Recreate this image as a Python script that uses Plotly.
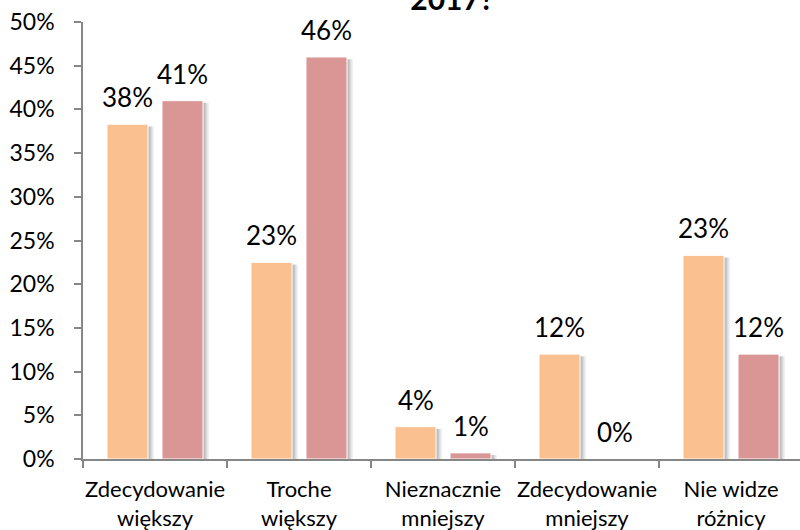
import plotly.graph_objects as go

categories = ["Zdecydowanie<br>większy", "Troche<br>większy", "Nieznacznie<br>mniejszy",
              "Zdecydowanie<br>mniejszy", "Nie widze<br>różnicy"]
series_a = [38.3, 22.5, 3.7, 12.0, 23.3]
series_b = [41.0, 46.0, 0.7, 0.0, 12.0]
label_a = ["38%", "23%", "4%", "12%", "23%"]
label_b = ["41%", "46%", "1%", "0%", "12%"]
y_ticks = [0, 5, 10, 15, 20, 25, 30, 35, 40, 45, 50]
y_ticktext = [f"{v}%" for v in y_ticks]

color_a = "#FAC090"
color_b = "#D99694"
font_family = "Lato, Open Sans, sans-serif"

bar_w = 0.285
center_shift = 0.191
offsets = {"A": -center_shift - bar_w / 2, "B": center_shift - bar_w / 2}

fig = go.Figure()

# soft drop shadows (drawn first, behind the bars)
for key, vals in (("A", series_a), ("B", series_b)):
    for dx, alpha in ((0.042, 0.06), (0.030, 0.09), (0.018, 0.12)):
        fig.add_trace(go.Bar(
            x=categories, y=[max(v - 0.25, 0) for v in vals], width=bar_w, offset=offsets[key] + dx,
            marker=dict(color=f"rgba(0,0,0,{alpha})", line=dict(width=0)),
            hoverinfo="skip", showlegend=False))

fig.add_trace(go.Bar(x=categories, y=series_a, width=bar_w, offset=offsets["A"],
                     marker=dict(color=color_a, line=dict(color="white", width=1)),
                     name="A", hoverinfo="skip"))
fig.add_trace(go.Bar(x=categories, y=series_b, width=bar_w, offset=offsets["B"],
                     marker=dict(color=color_b, line=dict(color="white", width=1)),
                     name="B", hoverinfo="skip"))

for i, c in enumerate(categories):
    fig.add_annotation(x=c, y=series_a[i], text=label_a[i], showarrow=False, xshift=-27.5, yshift=27,
                       yanchor="middle", font=dict(size=26, color="#000", family=font_family))
    fig.add_annotation(x=c, y=series_b[i], text=label_b[i], showarrow=False, xshift=27.5, yshift=27,
                       yanchor="middle", font=dict(size=26, color="#000", family=font_family))

fig.update_layout(
    width=800, height=530,
    margin=dict(l=83, r=0, t=22, b=71, autoexpand=False),
    paper_bgcolor="white", plot_bgcolor="white",
    showlegend=False,
    barmode="overlay",
    font=dict(family=font_family, size=22, color="#000"),
    title=dict(text="<b>2017?</b>", x=452 / 800, xanchor="center", yref="container", y=1 - 10 / 530,
               yanchor="bottom", font=dict(size=30, family=font_family, color="#000")),
)
fig.update_xaxes(
    type="category", range=[-0.5, 4.479], showgrid=False, zeroline=False,
    showline=True, linecolor="#868686", linewidth=1.5, tickangle=0,
    ticks="outside", tickson="boundaries", ticklen=7, tickcolor="#868686", tickwidth=1.5,
    ticklabelstandoff=10,
    tickfont=dict(size=22, family=font_family, color="#000"), automargin=False,
)
fig.update_yaxes(
    range=[0, 50], tickvals=y_ticks, ticktext=y_ticktext, showgrid=False, zeroline=False,
    showline=True, linecolor="#868686", linewidth=1.5,
    ticks="outside", ticklen=7, tickcolor="#868686", tickwidth=1.5, ticklabelstandoff=15,
    tickfont=dict(size=23, family=font_family, color="#000"), automargin=False,
)

fig.write_html("out.html", config={"displayModeBar": False},
               post_script="document.body.style.margin='0';")
